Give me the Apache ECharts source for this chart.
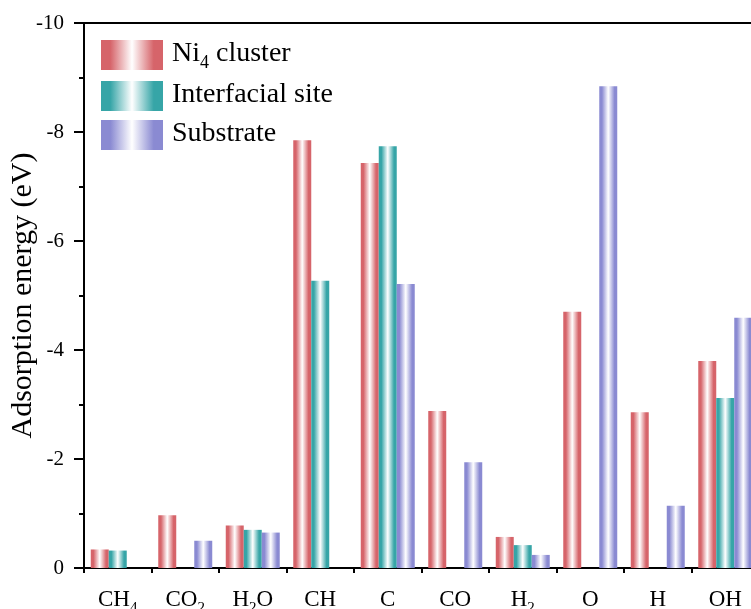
<!DOCTYPE html>
<html>
<head>
<meta charset="utf-8">
<script src="https://cdn.jsdelivr.net/npm/echarts@6/dist/echarts.min.js"></script>
<style>html,body{margin:0;padding:0;background:#fff}#c{width:751px;height:609px}</style>
</head>
<body>
<div id="c"></div>
<script>
const categories = ['CH4', 'CO2', 'H2O', 'CH', 'C', 'CO', 'H2', 'O', 'H', 'OH'];
const seriesNames = ['Ni4 cluster', 'Interfacial site', 'Substrate'];
const ni4Cluster = [-0.34, -0.97, -0.78, -7.85, -7.43, -2.88, -0.57, -4.70, -2.86, -3.80];
const interfacialSite = [-0.32, 0, -0.70, -5.27, -7.74, 0, -0.42, 0, 0, -3.12];
const substrate = [0, -0.50, -0.65, 0, -5.21, -1.94, -0.24, -8.84, -1.14, -4.59];
const yTicks = [-10, -8, -6, -4, -2, 0];

const colors = ['rgb(214,100,106)', 'rgb(54,165,167)', 'rgb(138,138,210)'];
const FONT = 'Liberation Serif';

function grad(c) {
  return new echarts.graphic.LinearGradient(0, 0, 1, 0, [
    {offset: 0, color: c},
    {offset: 0.15, color: c},
    {offset: 0.5, color: '#ffffff'},
    {offset: 0.85, color: c},
    {offset: 1, color: c}
  ]);
}
function sub(s, big, small) {
  return s.replace(/([^0-9]+)|([0-9]+)/g, (m, a, d) => a ? '{' + big + '|' + a + '}' : '{' + small + '|' + d + '}');
}

const chart = echarts.init(document.getElementById('c'));
const datas = [ni4Cluster, interfacialSite, substrate];
chart.setOption({
  animation: false,
  grid: {left: 84, top: 23, bottom: 41, right: -8, show: true, borderColor: '#000', borderWidth: 2,
         backgroundColor: 'transparent', containLabel: false, outerBoundsMode: 'none'},
  legend: {
    orient: 'vertical', left: 96, top: 35, itemWidth: 62, itemHeight: 30, itemGap: 9,
    padding: 5,
    icon: 'rect',
    data: seriesNames,
    formatter: n => sub(n.replace(' ', '\u0001'), 'a', 's').replace('\u0001', ' '),
    textStyle: {
      fontFamily: FONT, fontSize: 28, color: '#000', padding: [0, 0, 0, 4],
      rich: {
        a: {fontFamily: FONT, fontSize: 28, color: '#000', verticalAlign: 'top', lineHeight: 30},
        s: {fontFamily: FONT, fontSize: 18, color: '#000', verticalAlign: 'top', lineHeight: 16, padding: [14, 0, 0, 0]}
      }
    }
  },
  xAxis: [{
    type: 'category', data: categories,
    axisLine: {lineStyle: {color: '#000', width: 2}},
    axisTick: {alignWithLabel: true, interval: 0, length: 9, lineStyle: {color: '#000', width: 2}},
    axisLabel: {
      margin: 20, color: '#000', interval: 0,
      formatter: v => sub(v, 'n', 's'),
      rich: {
        n: {fontFamily: FONT, fontSize: 23, color: '#000', verticalAlign: 'top', lineHeight: 24},
        s: {fontFamily: FONT, fontSize: 15, color: '#000', verticalAlign: 'top', lineHeight: 15, padding: [13, 0, 0, 0]}
      }
    }
  }, {
    type: 'category', data: categories, position: 'bottom',
    axisLine: {show: false},
    axisTick: {show: true, interval: 0, length: 5, lineStyle: {color: '#000', width: 2}},
    axisLabel: {show: false}
  }],
  yAxis: {
    type: 'value', inverse: true, min: yTicks[0], max: yTicks[yTicks.length - 1], interval: 2,
    name: 'Adsorption energy (eV)', nameLocation: 'middle', nameGap: 46, nameMoveOverlap: false,
    nameTextStyle: {fontFamily: FONT, fontSize: 30, color: '#000'},
    axisLine: {show: true, lineStyle: {color: '#000', width: 2}},
    axisTick: {show: true, length: 10, lineStyle: {color: '#000', width: 2}},
    minorTick: {show: true, splitNumber: 2, length: 5, lineStyle: {color: '#000', width: 2}},
    splitLine: {show: false},
    axisLabel: {fontFamily: FONT, fontSize: 21, color: '#000', margin: 20}
  },
  series: datas.map((d, i) => ({
    name: seriesNames[i], type: 'bar', data: d, barWidth: 18, barGap: '0%',
    itemStyle: {color: grad(colors[i])}
  }))
});
</script>
</body>
</html>
